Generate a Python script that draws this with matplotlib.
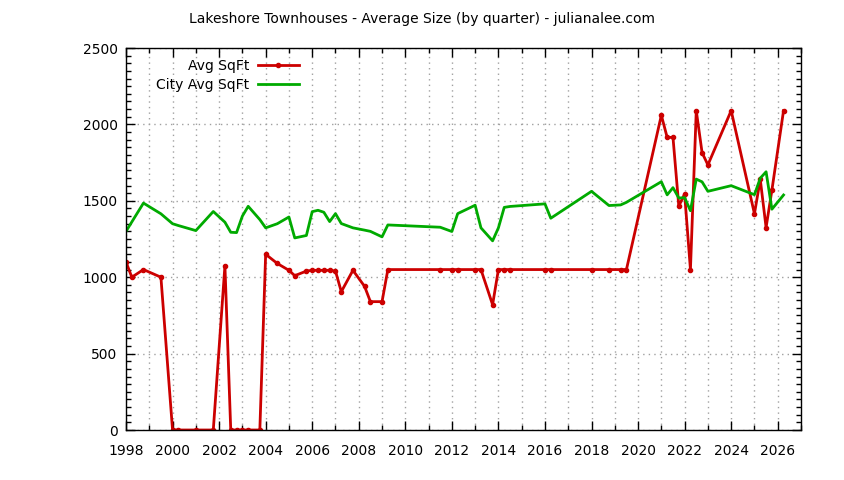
import matplotlib
matplotlib.use("Agg")
from matplotlib import pyplot as plt
from matplotlib.ticker import MultipleLocator

plt.rcParams['font.family'] = ['DejaVu Sans']

# quarterly data
red_q = [1998.0, 1998.25, 1998.75, 1999.5, 2000.0, 2000.25, 2001.0, 2001.75,
         2002.25, 2002.5, 2002.75, 2003.0, 2003.25, 2003.75, 2004.0, 2004.5,
         2005.0, 2005.25, 2005.75, 2006.0, 2006.25, 2006.5, 2006.75, 2007.0,
         2007.25, 2007.75, 2008.25, 2008.5, 2009.0, 2009.25, 2011.5, 2012.0,
         2012.25, 2013.0, 2013.25, 2013.75, 2014.0, 2014.25, 2014.5, 2016.0,
         2016.25, 2018.0, 2018.75, 2019.25, 2019.5, 2021.0, 2021.25, 2021.5,
         2021.75, 2022.0, 2022.25, 2022.5, 2022.75, 2023.0, 2024.0, 2025.0,
         2025.25, 2025.5, 2025.75, 2026.25]
avg_sqft = [1100, 1000, 1050, 1000, 0, 0, 0, 0,
            1075, 0, 0, 0, 0, 0, 1150, 1090,
            1045, 1010, 1040, 1045, 1045, 1045, 1045, 1040,
            905, 1045, 940, 840, 840, 1050, 1050, 1050,
            1050, 1050, 1050, 820, 1050, 1050, 1050, 1050,
            1050, 1050, 1050, 1050, 1050, 2060, 1915, 1915,
            1465, 1545, 1050, 2090, 1815, 1735, 2090, 1415,
            1640, 1325, 1570, 2090]

city_q = [1998.0, 1998.75, 1999.5, 2000.0, 2000.25, 2001.0, 2001.75, 2002.25,
          2002.5, 2002.75, 2003.0, 2003.25, 2003.75, 2004.0, 2004.5, 2005.0,
          2005.25, 2005.75, 2006.0, 2006.25, 2006.5, 2006.75, 2007.0, 2007.25,
          2007.75, 2008.25, 2008.5, 2009.0, 2009.25, 2011.5, 2012.0, 2012.25,
          2013.0, 2013.25, 2013.75, 2014.0, 2014.25, 2014.5, 2016.0, 2016.25,
          2018.0, 2018.75, 2019.25, 2019.5, 2021.0, 2021.25, 2021.5, 2021.75,
          2022.0, 2022.25, 2022.5, 2022.75, 2023.0, 2024.0, 2025.0, 2025.25,
          2025.5, 2025.75, 2026.25]
city_sqft = [1300, 1485, 1415, 1350, 1338, 1305, 1430, 1360,
             1294, 1292, 1400, 1464, 1377, 1323, 1350, 1394,
             1257, 1273, 1429, 1438, 1425, 1364, 1416, 1351,
             1323, 1308, 1300, 1264, 1342, 1327, 1299, 1416,
             1471, 1323, 1238, 1323, 1457, 1463, 1480, 1386,
             1562, 1469, 1473, 1490, 1625, 1539, 1586, 1518,
             1521, 1435, 1642, 1624, 1562, 1599, 1540, 1648,
             1690, 1445, 1538]

fig = plt.figure(figsize=(8.44, 4.80), dpi=100)
ax = fig.add_axes([126/844, 1-430/480, 675/844, 382/480])

ax.plot(red_q, avg_sqft, color='#cc0000', lw=2, marker='o', ms=3,
        label='Avg SqFt')
ax.plot(city_q, city_sqft, color='#00aa00', lw=2, label='City Avg SqFt')

ax.set_xlim(1998, 2027)
ax.set_ylim(0, 2500)
ax.xaxis.set_major_locator(MultipleLocator(2))
ax.xaxis.set_minor_locator(MultipleLocator(1))
ax.yaxis.set_major_locator(MultipleLocator(500))
ax.yaxis.set_minor_locator(MultipleLocator(50))
ax.tick_params(which='both', direction='in', top=True, right=True,
               labelsize=10, colors='black')
ax.tick_params(which='major', length=6.5, width=1)
ax.tick_params(which='minor', length=3.3, width=1)
ax.tick_params(axis='x', pad=10)
ax.tick_params(axis='y', pad=6)
ax.grid(True, which='both', axis='x', color='#a0a0a0', lw=1, ls=(0, (1, 3)))
ax.grid(True, which='major', axis='y', color='#a0a0a0', lw=1, ls=(0, (1, 3)))
ax.set_axisbelow(True)
for s in ax.spines.values():
    s.set_linewidth(1)

fig.text(0.5, 1 - 19/480,
         'Lakeshore Townhouses - Average Size (by quarter) - julianalee.com',
         ha='center', va='center', fontsize=10)
ax.legend(loc='upper right', bbox_to_anchor=(0.271, 0.996), frameon=False,
          markerfirst=False, numpoints=1, handlelength=3.0, handletextpad=0.6,
          labelspacing=0.35, fontsize=10, borderaxespad=0.3)

fig.savefig('out.png', dpi=100)
